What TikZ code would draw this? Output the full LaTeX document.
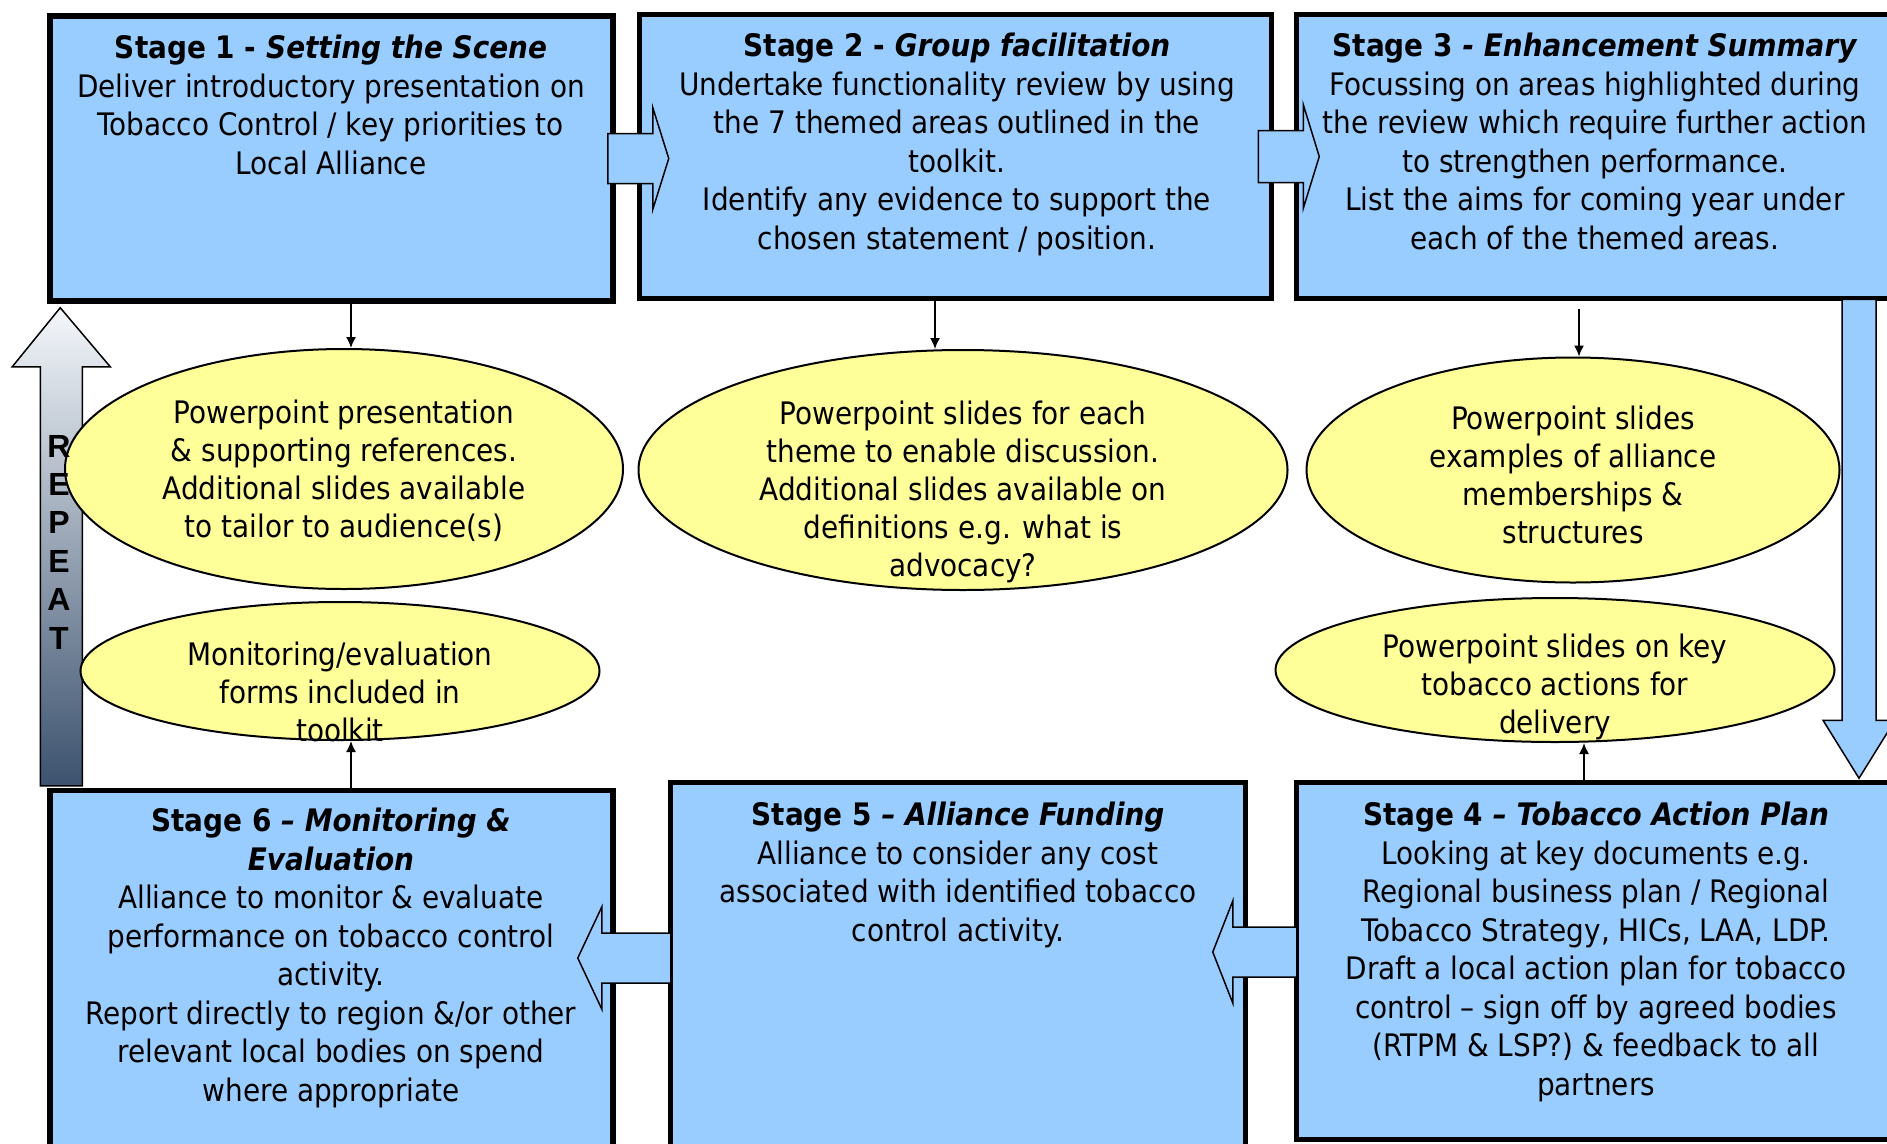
\documentclass[tikz,border=0pt]{standalone}
\usepackage{fontspec}
\setmainfont{DejaVu Sans Condensed}
\newfontfamily\repeatfont{Liberation Sans}[UprightFont={* Bold}]
\usetikzlibrary{shapes.geometric,arrows.meta}

\definecolor{boxblue}{HTML}{99CCFF}
\definecolor{blobyellow}{HTML}{FFFF99}
\definecolor{repeattop}{HTML}{F4F7FB}
\definecolor{repeatbottom}{HTML}{3C526E}

\tikzset{
  stagebox/.style={rectangle,draw,line width=5.5pt,fill=boxblue},
  stagetext/.style={align=center,inner sep=0pt,anchor=north,font=\fontsize{31}{38.5}\selectfont},
  blob/.style={ellipse,draw,line width=2pt,fill=blobyellow},
  blobtext/.style={align=center,inner sep=0pt,anchor=north,font=\fontsize{31}{38}\selectfont},
  fatarrow/.style={draw,line width=1.5pt,fill=boxblue,line join=miter},
}

\begin{document}
\begin{tikzpicture}[x=1pt,y=-1pt]

      \useasboundingbox (0,0) rectangle (1887,1143);
      \clip (0,0) rectangle (1887,1143);

      % the six stages
      \begin{scope}[every node/.style={stagebox}]
        \node[minimum width=563pt,minimum height=285pt] (1) at (331.5,158.5) {};
        \node[minimum width=632pt,minimum height=284pt] (2) at (955.5,156.5) {};
        \node[minimum width=604pt,minimum height=284pt] (3) at (1598.5,156.5) {};
        \node[minimum width=604pt,minimum height=357pt] (4) at (1598.5,961) {};
        \node[minimum width=575pt,minimum height=368pt] (5) at (958,966.5) {};
        \node[minimum width=563pt,minimum height=360pt] (6) at (331.5,970.5) {};
      \end{scope}

      \begin{scope}[every node/.style={stagetext}]
        \node (t1) at (331,35) {\textbf{Stage 1 - \textit{Setting the Scene}}\\
          Deliver introductory presentation on\\
          Tobacco Control / key priorities to\\
          Local Alliance};
        \node (t2) at (957,33) {\textbf{Stage 2 - \textit{Group facilitation}}\\
          Undertake functionality review by using\\
          the 7 themed areas outlined in the\\
          toolkit.\\
          Identify any evidence to support the\\
          chosen statement / position.};
        \node (t3) at (1595,33) {\textbf{Stage 3 \textit{- Enhancement Summary}}\\
          Focussing on areas highlighted during\\
          the review which require further action\\
          to strengthen performance.\\
          List the aims for coming year under\\
          each of the themed areas.};
        \node (t4) at (1596,802) {\textbf{Stage 4 \textit{– Tobacco Action Plan}}\\
          Looking at key documents e.g.\\
          Regional business plan / Regional\\
          Tobacco Strategy, HICs, LAA, LDP.\\
          Draft a local action plan for tobacco\\
          control – sign off by agreed bodies\\
          (RTPM \& LSP?) \& feedback to all\\
          partners};
        \node (t5) at (958,802) {\textbf{Stage 5 \textit{– Alliance Funding}}\\
          Alliance to consider any cost\\
          associated with identified tobacco\\
          control activity.};
        \node (t6) at (331,808) {\textbf{Stage 6 \textit{– Monitoring \&}}\\
          \textbf{\textit{Evaluation}}\\
          Alliance to monitor \& evaluate\\
          performance on tobacco control\\
          activity.\\
          Report directly to region \&/or other\\
          relevant local bodies on spend\\
          where appropriate};
      \end{scope}

      % block arrows between the stages
      \draw[fatarrow,shift={(1.east)}] (-8,-25) -- (37,-25) -- (37,-51) -- (53,0)
        -- (37,51) -- (37,25) -- (-8,25) -- cycle;
      \draw[fatarrow,shift={(2.east)}] (-16,-26) -- (29,-26) -- (29,-52) -- (45,0)
        -- (29,52) -- (29,26) -- (-16,26) -- cycle;
      \draw[fatarrow,shift={(3.south -| 1859,0)}] (-17,-2) -- (-17,419) -- (-36,419) -- (0,477)
        -- (36,419) -- (17,419) -- (17,-2) -- cycle;
      \draw[fatarrow,shift={(4.west |- 0,952)}] (3,-25) -- (-61,-25) -- (-61,-51) -- (-81,0)
        -- (-61,51) -- (-61,25) -- (3,25) -- cycle;
      \draw[fatarrow,shift={(5.west |- 0,958)}] (3,-25) -- (-66,-25) -- (-66,-51) -- (-90,0)
        -- (-66,51) -- (-66,25) -- (3,25) -- cycle;

      % repeat arrow from stage 6 back to stage 1
      \draw[line width=1.5pt,line join=miter,top color=repeattop,bottom color=repeatbottom,
        shift={(1.south west)}] (-7,482) -- (-7,63) -- (-35,63) -- (13,4)
        -- (63,63) -- (35,63) -- (35,482) -- cycle;

      % resources
      \begin{scope}[every node/.style={blob}]
        \node[minimum width=558pt,minimum height=240pt] (7)  at (344,469) {};
        \node[minimum width=649pt,minimum height=240pt] (8)  at (963,470) {};
        \node[minimum width=533pt,minimum height=225pt] (9)  at (1573,470) {};
        \node[minimum width=519pt,minimum height=138pt] (10) at (340,671) {};
        \node[minimum width=559pt,minimum height=144pt] (11) at (1555,670) {};
      \end{scope}

      \begin{scope}[every node/.style={blobtext}]
        \node (t7) at (344,400) {Powerpoint presentation\\
          \& supporting references.\\
          Additional slides available\\
          to tailor to audience(s)};
        \node (t8) at (963,401) {Powerpoint slides for each\\
          theme to enable discussion.\\
          Additional slides available on\\
          definitions e.g. what is\\
          advocacy?};
        \node (t9) at (1573,406) {Powerpoint slides\\
          examples of alliance\\
          memberships \&\\
          structures};
        \node (t10) at (340,642) {Monitoring/evaluation\\
          forms included in\\
          toolkit};
        \node (t11) at (1555,634) {Powerpoint slides on key\\
          tobacco actions for\\
          delivery};
      \end{scope}

      \begin{scope}[every edge/.style={draw,line width=1.5pt,-{Latex[length=11pt,width=10pt]}}]
        \path (1.south -| 351,0) edge (7.north -| 351,0);
        \path (2.south -| 935,0) edge (8.north -| 935,0);
        \path ([yshift=-8pt]3.south -| 1579,0) edge (9.north -| 1579,0);
        \path (6.north -| 351,0) edge (10.south -| 351,0);
        \path (4.north -| 1584,0) edge (11.south -| 1584,0);
      \end{scope}

      \node[align=center,inner sep=0pt,font={\fontsize{32}{38.4}\selectfont\repeatfont}]
        (rep) at (59,542) {R\\E\\P\\E\\A\\T};

    \end{tikzpicture}
\end{document}
